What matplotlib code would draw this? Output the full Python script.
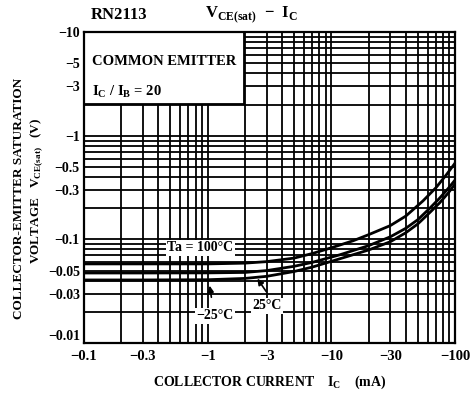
import numpy as np
import matplotlib
matplotlib.use('Agg')
import matplotlib.pyplot as plt
from matplotlib.ticker import LogLocator, FixedLocator, NullFormatter
from matplotlib.patches import Rectangle

# collector current (mA, magnitude) and VCE(sat) (V, magnitude)
ic_100 = [0.1, 0.3, 1, 2, 3, 5, 7, 10, 15, 20, 30, 40, 55, 70, 85, 100]
vce_100 = [0.058, 0.058, 0.058, 0.059, 0.061, 0.066, 0.073, 0.083, 0.097, 0.111, 0.136, 0.168, 0.235, 0.315, 0.42, 0.545]
ic_25 = [0.1, 0.3, 1, 2, 3, 5, 7, 11.7, 20, 30, 40, 50, 62, 75, 88, 100]
vce_25 = [0.0474, 0.0474, 0.0475, 0.048, 0.050, 0.055, 0.060, 0.071, 0.087, 0.106, 0.128, 0.155, 0.198, 0.25, 0.31, 0.374]
ic_m25 = [0.1, 0.3, 1, 2, 3, 5, 7, 11.7, 20, 30, 40, 50, 62, 75, 88, 100]
vce_m25 = [0.0406, 0.0406, 0.0408, 0.042, 0.044, 0.049, 0.054, 0.065, 0.079, 0.095, 0.116, 0.141, 0.18, 0.225, 0.28, 0.342]

xticks = [0.1, 0.3, 1, 3, 10, 30, 100]
xlabels = ['\u22120.1', '\u22120.3', '\u22121', '\u22123', '\u221210', '\u221230', '\u2212100']
yticks = [0.01, 0.03, 0.05, 0.1, 0.3, 0.5, 1, 3, 5, 10]
ylabels = ['\u22120.01', '\u22120.03', '\u22120.05', '\u22120.1', '\u22120.3', '\u22120.5',
           '\u22121', '\u22123', '\u22125', '\u221210']

plt.rcParams['font.family'] = ['Liberation Serif', 'DejaVu Serif']
plt.rcParams['font.weight'] = 'bold'

fig = plt.figure(figsize=(4.77, 3.97), dpi=100)
ax = fig.add_axes([0.176, 0.136, 0.778, 0.783])
ax.set_xscale('log')
ax.set_yscale('log')
ax.set_xlim(0.1, 100)
ax.set_ylim(0.01, 10)

ax.xaxis.set_major_locator(FixedLocator(xticks))
ax.xaxis.set_minor_locator(LogLocator(base=10, subs=np.arange(1, 10)))
ax.yaxis.set_major_locator(FixedLocator(yticks))
ax.yaxis.set_minor_locator(LogLocator(base=10, subs=np.arange(1, 10)))
ax.set_xticklabels(xlabels, fontsize=10.5, fontweight='bold')
ax.set_yticklabels(ylabels, fontsize=10, fontweight='bold')
ax.xaxis.set_minor_formatter(NullFormatter())
ax.yaxis.set_minor_formatter(NullFormatter())
ax.tick_params(which='both', length=0)
ax.tick_params(axis='x', pad=5)
ax.tick_params(axis='y', pad=3)
# lift the bottom y label a little, as in the original
ax.get_yticklabels()[0].set_va('bottom')
ax.grid(which='both', color='black', linewidth=1.3, zorder=1)
ax.set_axisbelow(True)
for s in ax.spines.values():
    s.set_linewidth(1.6)

# white label box in the upper left
ax.add_patch(Rectangle((0, 0.768), 0.431, 0.232, transform=ax.transAxes,
                       facecolor='white', edgecolor='black', linewidth=1.3, zorder=2))
ax.text(0.022, 0.905, 'COMMON EMITTER', transform=ax.transAxes, fontsize=10.5,
        fontweight='bold', va='center', zorder=3)
ax.text(0.022, 0.81, 'I$_\\mathregular{C}$ / I$_\\mathregular{B}$ = 20', transform=ax.transAxes,
        fontsize=10.5, fontweight='bold', va='center', zorder=3)

for ic, v in [(ic_100, vce_100), (ic_25, vce_25), (ic_m25, vce_m25)]:
    ax.plot(ic, v, color='black', linewidth=2.0, zorder=4, solid_joinstyle='round')

bbox = dict(facecolor='white', edgecolor='none', pad=1.0)
ax.text(0.87, 0.083, 'Ta = 100\u00b0C', fontsize=10, fontweight='bold', ha='center', va='center',
        bbox=bbox, zorder=5)
ax.text(3.0, 0.0228, '25\u00b0C', fontsize=10, fontweight='bold', ha='center', va='center',
        bbox=bbox, zorder=5)
ax.text(1.15, 0.0183, '\u221225\u00b0C', fontsize=10, fontweight='bold', ha='center', va='center',
        bbox=bbox, zorder=5)
ax.annotate('', xy=(1.03, 0.038), xytext=(1.08, 0.026),
            arrowprops=dict(arrowstyle='-|>', color='black', lw=1.2, mutation_scale=9), zorder=5)
ax.annotate('', xy=(2.45, 0.044), xytext=(3.07, 0.0297),
            arrowprops=dict(arrowstyle='-|>', color='black', lw=1.2, mutation_scale=9), zorder=5)

fig.text(0.19, 0.962, 'RN2113', fontsize=12, fontweight='bold', va='center')
fig.text(0.43, 0.962, 'V$_\\mathregular{CE(sat)}$  \u2212  I$_\\mathregular{C}$', fontsize=12,
         fontweight='bold', va='center')
fig.text(0.565, 0.038, 'COLLECTOR CURRENT    I$_\\mathregular{C}$    (mA)', fontsize=10,
         fontweight='bold', ha='center', va='center')
fig.text(0.04, 0.5, 'COLLECTOR-EMITTER SATURATION', fontsize=9.5, fontweight='bold',
         rotation=90, ha='center', va='center')
fig.text(0.077, 0.52, 'VOLTAGE   V$_\\mathregular{CE(sat)}$   (V)', fontsize=9.5, fontweight='bold',
         rotation=90, ha='center', va='center')

fig.savefig('out.png', dpi=100)
